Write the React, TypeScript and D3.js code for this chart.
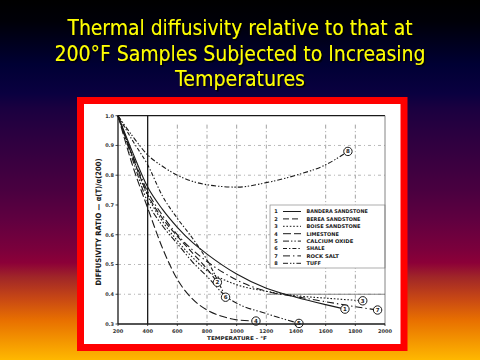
import React from 'react';
import * as d3 from 'd3';

const titleLines = [
  'Thermal diffusivity relative to that at',
  '200°F Samples Subjected to Increasing',
  'Temperatures',
];
const titleWidths = [345, 371, 130];

const xTicks = [200, 400, 600, 800, 1000, 1200, 1400, 1600, 1800, 2000];
const yTicks = [0.3, 0.4, 0.5, 0.6, 0.7, 0.8, 0.9, 1.0];
const yTickLabels = ['0.3', '0.4', '0.5', '0.6', '0.7', '0.8', '0.9', '1.0'];
const vGrid = [600, 800, 1000, 1200, 1600, 1800];
const hGrid = [0.4, 0.5, 0.6, 0.8, 0.9];

// [temperature °F, diffusivity ratio]
const bandera: [number, number][] = [[200, 1.0], [300, 0.875], [400, 0.76], [500, 0.685], [600, 0.625], [700, 0.575], [800, 0.535], [1000, 0.468], [1200, 0.42], [1400, 0.39], [1600, 0.365], [1730, 0.35]];
const berea: [number, number][] = [[200, 1.0], [300, 0.86], [400, 0.735], [500, 0.655], [600, 0.595], [700, 0.54], [800, 0.485], [870, 0.44]];
const boise: [number, number][] = [[200, 1.0], [300, 0.86], [400, 0.73], [500, 0.645], [600, 0.58], [700, 0.525], [800, 0.48], [900, 0.452], [1000, 0.432], [1200, 0.41], [1400, 0.395], [1600, 0.387], [1850, 0.378]];
const limestone: [number, number][] = [[200, 1.0], [300, 0.83], [400, 0.69], [500, 0.555], [600, 0.45], [700, 0.385], [800, 0.347], [900, 0.326], [1000, 0.314], [1130, 0.31]];
const calciumOxide: [number, number][] = [[200, 1.0], [300, 0.85], [400, 0.71], [500, 0.63], [600, 0.57], [700, 0.51], [800, 0.46], [935, 0.39], [1000, 0.37], [1200, 0.335], [1420, 0.302]];
const shale: [number, number][] = [[200, 1.0], [300, 0.915], [400, 0.835], [500, 0.73], [600, 0.655], [700, 0.59], [800, 0.515], [925, 0.39]];
const rockSalt: [number, number][] = [[200, 1.0], [300, 0.865], [400, 0.745], [500, 0.665], [600, 0.6], [700, 0.55], [800, 0.51], [1000, 0.448], [1200, 0.41], [1400, 0.392], [1600, 0.375], [1800, 0.358], [1950, 0.347]];
const tuff: [number, number][] = [[200, 1.0], [300, 0.93], [400, 0.868], [500, 0.83], [600, 0.8], [800, 0.768], [1000, 0.76], [1200, 0.775], [1400, 0.8], [1600, 0.835], [1750, 0.88]];

const legendNumbers = ['1', '2', '3', '4', '5', '6', '7', '8'];
const legendLabels = ['BANDERA SANDSTONE', 'BEREA SANDSTONE', 'BOISE SANDSTONE', 'LIMESTONE', 'CALCIUM OXIDE', 'SHALE', 'ROCK SALT', 'TUFF'];
const seriesData = [bandera, berea, boise, limestone, calciumOxide, shale, rockSalt, tuff];
const dashes = ['', '6,3', '1.6,1.8', '8,3', '6,2,1.4,2,1.4,2', '4,2,1.4,2', '7,3,1.4,3', '5,2,1.4,1.6,1.4,2'];

export default function App() {
  const x = d3.scaleLinear().domain([200, 2000]).range([118, 385]);
  const y = d3.scaleLinear().domain([0.3, 1.0]).range([324, 115.7]);
  const line = d3
    .line<[number, number]>()
    .x((d) => x(d[0]))
    .y((d) => y(d[1]))
    .curve(d3.curveMonotoneX);

  const ink = '#1a1a1a';
  const legendX = 270;
  const legendTop = 211.5;
  const legendStep = 7.4;

  return (
    <svg width={480} height={360} style={{ position: 'absolute', left: 0, top: 0 }}>
      <defs>
        <linearGradient id="bg" x1="0" y1="0" x2="0" y2="1">
          <stop offset="0" stopColor="#000000" />
          <stop offset="0.06" stopColor="#000008" />
          <stop offset="0.18" stopColor="#000034" />
          <stop offset="0.26" stopColor="#0a0040" />
          <stop offset="0.30" stopColor="#1a0040" />
          <stop offset="0.37" stopColor="#2a0040" />
          <stop offset="0.45" stopColor="#3a0040" />
          <stop offset="0.53" stopColor="#4a0040" />
          <stop offset="0.61" stopColor="#600040" />
          <stop offset="0.69" stopColor="#7a003c" />
          <stop offset="0.73" stopColor="#8c0038" />
          <stop offset="0.77" stopColor="#a02628" />
          <stop offset="0.83" stopColor="#c84814" />
          <stop offset="0.89" stopColor="#e87000" />
          <stop offset="1" stopColor="#ffb800" />
        </linearGradient>
        <filter id="shadow" x="-5%" y="-30%" width="110%" height="160%">
          <feDropShadow dx={1.5} dy={1.5} stdDeviation={0.3} floodColor="#000" floodOpacity={1} />
        </filter>
      </defs>
      <rect x={0} y={0} width={480} height={360} fill="url(#bg)" />

      <g fontFamily="DejaVu Sans" fontSize={20.5} textAnchor="middle" fill="#ffff00" filter="url(#shadow)">
        {titleLines.map((t, i) => (
          <text key={i} x={240} y={35 + i * 25.5} textLength={titleWidths[i]} lengthAdjust="spacingAndGlyphs">
            {t}
          </text>
        ))}
      </g>

      {/* red frame */}
      <rect x={80.5} y={100.5} width={323.5} height={247} fill="#ffffff" stroke="#ff0000" strokeWidth={7} />

      {/* grid */}
      {vGrid.map((v) => (
        <line key={'vg' + v} x1={x(v)} x2={x(v)} y1={y(0.97)} y2={y(0.3)} stroke="#8a8a8a" strokeWidth={0.8} strokeDasharray="4,2.5,1,2.5" />
      ))}
      {hGrid.map((v) => (
        <line key={'hg' + v} x1={x(200)} x2={x(2000)} y1={y(v)} y2={y(v)} stroke="#9a9a9a" strokeWidth={0.7} strokeDasharray="3,3,1,3" />
      ))}
      <line x1={x(1200)} x2={x(2000)} y1={y(0.4)} y2={y(0.4)} stroke="#777" strokeWidth={0.9} />
      <line x1={x(400)} x2={x(400)} y1={y(1.0)} y2={y(0.3)} stroke={ink} strokeWidth={1.3} />

      {/* legend box */}
      <rect x={legendX} y={205} width={x(2000) - legendX} height={63} fill="#fff" stroke="#8a8a8a" strokeWidth={0.7} />
      {legendNumbers.map((n, i) => {
        const ly = legendTop + i * legendStep;
        return (
          <g key={'lg' + n} fontFamily="DejaVu Sans" fontWeight="bold" fontSize={5} fill={ink}>
            <text x={276} y={ly + 1.8} textAnchor="middle">{n}</text>
            <line x1={283} x2={301} y1={ly} y2={ly} stroke={ink} strokeWidth={1} strokeDasharray={dashes[i]} />
            <text x={306.5} y={ly + 1.8} textLength={legendLabels[i].length * 3.6} lengthAdjust="spacingAndGlyphs">
              {legendLabels[i]}
            </text>
          </g>
        );
      })}

      {/* curves */}
      {seriesData.map((s, i) => (
        <path key={'s' + i} d={line(s) || ''} fill="none" stroke={ink} strokeWidth={1.1} strokeDasharray={dashes[i]} />
      ))}
      {seriesData.map((s, i) => {
        const last = s[s.length - 1];
        return (
          <g key={'m' + i}>
            <circle cx={x(last[0])} cy={y(last[1])} r={4.2} fill="#fff" stroke={ink} strokeWidth={1} />
            <text x={x(last[0])} y={y(last[1]) + 2} textAnchor="middle" fontFamily="DejaVu Sans" fontWeight="bold" fontSize={5.5} fill={ink}>
              {legendNumbers[i]}
            </text>
          </g>
        );
      })}

      {/* frame / axes */}
      <line x1={x(200)} x2={x(2000)} y1={y(1.0)} y2={y(1.0)} stroke={ink} strokeWidth={1.3} />
      <line x1={x(2000)} x2={x(2000)} y1={y(1.0)} y2={y(0.3)} stroke="#777" strokeWidth={0.9} />
      <line x1={x(200)} x2={x(200)} y1={y(1.0)} y2={y(0.3)} stroke={ink} strokeWidth={1.3} />
      <line x1={x(200)} x2={x(2000)} y1={y(0.3)} y2={y(0.3)} stroke={ink} strokeWidth={1.3} />

      {yTicks.map((v, i) => (
        <g key={'yt' + v}>
          <line x1={x(200) - 2.5} x2={x(200)} y1={y(v)} y2={y(v)} stroke={ink} strokeWidth={0.8} />
          <text x={x(200) - 4} y={y(v) + 2} textAnchor="end" fontFamily="DejaVu Sans" fontWeight="bold" fontSize={5} fill="#333">
            {yTickLabels[i]}
          </text>
        </g>
      ))}
      {xTicks.map((v) => (
        <g key={'xt' + v}>
          <line x1={x(v)} x2={x(v)} y1={y(0.3)} y2={y(0.3) + 2} stroke={ink} strokeWidth={0.8} />
          <text x={x(v)} y={y(0.3) + 8.5} textAnchor="middle" fontFamily="DejaVu Sans" fontWeight="bold" fontSize={5} fill="#333">
            {v}
          </text>
        </g>
      ))}
      <text x={237} y={340} textAnchor="middle" fontFamily="DejaVu Sans" fontWeight="bold" fontSize={5} fill={ink} textLength={60} lengthAdjust="spacingAndGlyphs">
        TEMPERATURE - °F
      </text>
      <text
        transform="translate(100.5,222) rotate(-90)"
        textAnchor="middle"
        fontFamily="DejaVu Sans"
        fontWeight="bold"
        fontSize={7.5}
        fill={ink}
        textLength={127}
        lengthAdjust="spacingAndGlyphs"
      >
        DIFFUSIVITY RATIO — α(T)/α(200)
      </text>
    </svg>
  );
}
